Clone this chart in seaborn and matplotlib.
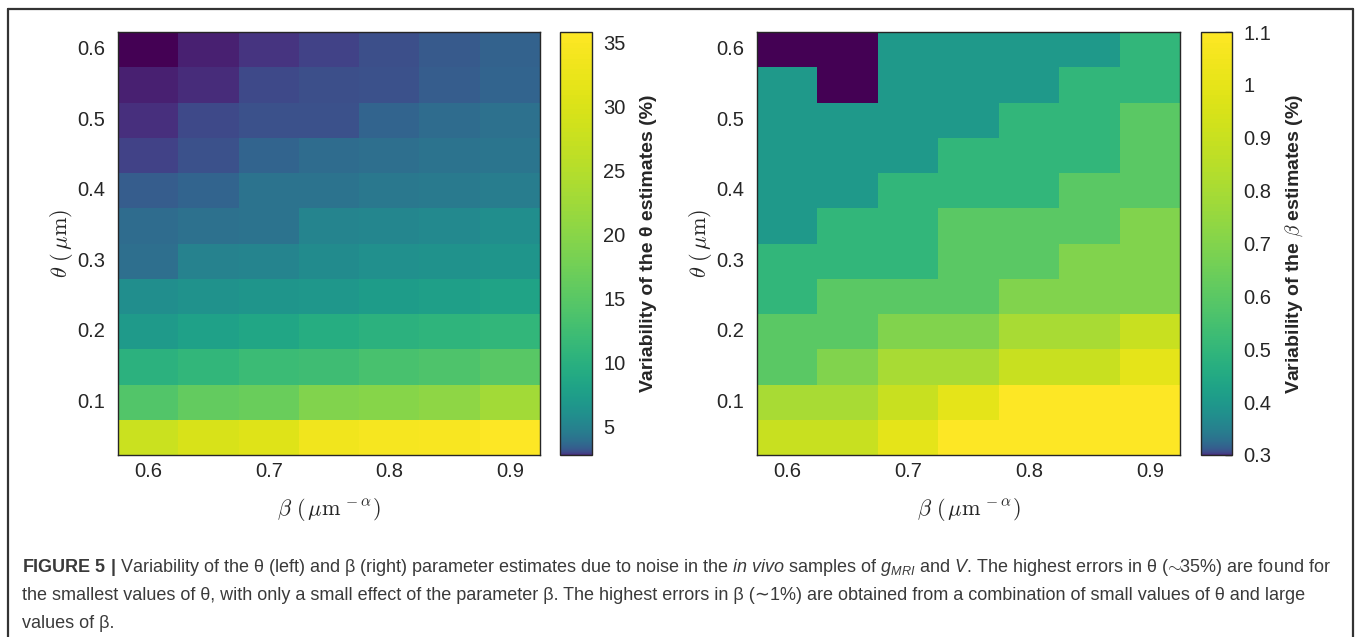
import numpy as np
import pandas as pd
import matplotlib
matplotlib.use("Agg")
import matplotlib.pyplot as plt
from matplotlib.colors import ListedColormap
from matplotlib.lines import Line2D
import seaborn as sns

# ---------------- data ----------------
beta_values = [0.6, 0.65, 0.7, 0.75, 0.8, 0.85, 0.9]
theta_values = [0.6, 0.55, 0.5, 0.45, 0.4, 0.35, 0.3, 0.25, 0.2, 0.15, 0.1, 0.05]  # top -> bottom

# variability of theta estimates (%), rows follow theta_values, columns beta_values
theta_var = [
    [2.80, 2.81, 2.86, 2.95, 3.08, 3.27, 3.47],
    [2.81, 2.83, 3.01, 3.08, 3.12, 3.33, 3.54],
    [2.84, 3.01, 3.12, 3.12, 3.54, 3.80, 4.00],
    [2.95, 3.12, 3.54, 3.80, 3.90, 4.11, 4.23],
    [3.33, 3.54, 4.11, 4.11, 4.36, 4.49, 4.63],
    [3.80, 4.00, 4.11, 5.10, 5.28, 5.46, 5.86],
    [3.90, 4.94, 5.10, 5.66, 6.07, 6.30, 6.53],
    [5.86, 6.30, 6.53, 6.78, 7.30, 7.58, 8.17],
    [7.03, 7.87, 8.49, 9.51, 10.25, 10.65, 11.06],
    [10.25, 11.06, 11.92, 12.38, 13.34, 13.84, 14.90],
    [14.36, 16.02, 16.61, 19.15, 19.83, 20.53, 22.76],
    [27.79, 29.65, 30.61, 33.65, 34.18, 34.71, 35.80],
]

# variability of beta estimates (%)
beta_var = [
    [0.3, 0.3, 0.4, 0.4, 0.4, 0.4, 0.5],
    [0.4, 0.3, 0.4, 0.4, 0.4, 0.5, 0.5],
    [0.4, 0.4, 0.4, 0.4, 0.5, 0.5, 0.6],
    [0.4, 0.4, 0.4, 0.5, 0.5, 0.5, 0.6],
    [0.4, 0.4, 0.5, 0.5, 0.5, 0.6, 0.6],
    [0.4, 0.5, 0.5, 0.6, 0.6, 0.6, 0.7],
    [0.5, 0.5, 0.5, 0.6, 0.6, 0.7, 0.7],
    [0.5, 0.6, 0.6, 0.6, 0.7, 0.7, 0.7],
    [0.6, 0.6, 0.7, 0.7, 0.8, 0.8, 0.9],
    [0.6, 0.7, 0.8, 0.8, 0.9, 0.9, 1.0],
    [0.8, 0.8, 0.9, 1.0, 1.1, 1.1, 1.1],
    [0.9, 0.9, 1.0, 1.1, 1.1, 1.1, 1.1],
]

x_ticks = [0.6, 0.7, 0.8, 0.9]
x_tick_labels = ["0.6", "0.7", "0.8", "0.9"]
y_ticks = [0.1, 0.2, 0.3, 0.4, 0.5, 0.6]
y_tick_labels = ["0.1", "0.2", "0.3", "0.4", "0.5", "0.6"]
theta_cbar_ticks = [5, 10, 15, 20, 25, 30, 35]
theta_cbar_labels = ["5", "10", "15", "20", "25", "30", "35"]
beta_cbar_ticks = [0.3, 0.4, 0.5, 0.6, 0.7, 0.8, 0.9, 1.0, 1.1]
beta_cbar_labels = ["0.3", "0.4", "0.5", "0.6", "0.7", "0.8", "0.9", "1", "1.1"]
theta_range = (2.8, 35.8)
beta_range = (0.3, 1.1)

caption_lines = [
    (r"$\mathbf{FIGURE\ 5\ |}$ Variability of the θ (left) and β (right) parameter estimates due to noise in the "
     r"$\mathit{in\ vivo}$ samples of $\mathit{g}_{\mathit{MRI}}$ and $\mathit{V}$. "
     r"The highest errors in θ ($\!\sim\!\!$35%) are found for"),
    ("the smallest values of θ, with only a small effect of the parameter β. The highest errors in β (∼1%) "
     "are obtained from a combination of small values of θ and large"),
    "values of β.",
]

# ---------------- style ----------------
sns.set_theme(style="white")
plt.rcParams['font.family'] = ['Liberation Sans', 'DejaVu Sans']
plt.rcParams['mathtext.fontset'] = 'custom'
plt.rcParams['mathtext.rm'] = 'Liberation Sans'
plt.rcParams['mathtext.it'] = 'Liberation Sans:italic'
plt.rcParams['mathtext.bf'] = 'Liberation Sans:bold'

W, H = 1358, 637
fig = plt.figure(figsize=(W / 100, H / 100), dpi=100)
fig.patch.set_facecolor("white")


def axes_px(x0, y0, x1, y1):
    return fig.add_axes([x0 / W, 1 - y1 / H, (x1 - x0) / W, (y1 - y0) / H])


# viridis with a compressed dark end (fine lookup table so the low end is resolved)
cmap = ListedColormap(plt.cm.viridis(np.linspace(0, 1, 65536) ** 0.3))
dark = "#262626"
tick_fs = 14.5


def pos_of(values, v):
    return float(np.argmin(np.abs(np.array(values) - v))) + 0.5


def draw_panel(ax, cax, data, vrange, cticks, clabels, clabel, clabel_x):
    df = pd.DataFrame(data, index=theta_values, columns=beta_values)
    sns.heatmap(df, ax=ax, cbar_ax=cax, cmap=cmap, vmin=vrange[0], vmax=vrange[1],
                linewidths=0, cbar_kws={"ticks": cticks})
    ax.set_xticks([pos_of(beta_values, v) for v in x_ticks])
    ax.set_xticklabels(x_tick_labels, rotation=0, fontsize=tick_fs, color=dark)
    ax.set_yticks([pos_of(theta_values, v) for v in y_ticks])
    ax.set_yticklabels(y_tick_labels, rotation=0, fontsize=tick_fs, color=dark)
    ax.tick_params(axis="x", direction="in", length=5, width=1, color=dark,
                   top=True, bottom=True, pad=5)
    ax.tick_params(axis="y", direction="in", length=5, width=1, color=dark,
                   left=True, right=True, pad=9)
    for sp in ax.spines.values():
        sp.set_visible(True)
        sp.set_color(dark)
        sp.set_linewidth(1.0)
    ax.set_xlabel(r"$\beta\ (\,\mu\mathrm{m}^{\,-\alpha})$", fontsize=16, color=dark,
                  math_fontfamily="cm")
    ax.xaxis.set_label_coords(0.5, -0.097)
    ax.set_ylabel(r"$\theta\ (\,\mu\mathrm{m})$", fontsize=16, color=dark, math_fontfamily="cm")
    ax.yaxis.set_label_coords(-0.102, 0.5)

    cbar = ax.collections[0].colorbar
    cbar.outline.set_edgecolor(dark)
    cbar.outline.set_linewidth(1.0)
    cbar.set_ticks(cticks)
    cbar.set_ticklabels(clabels)
    cax.tick_params(direction="in", length=5, width=1, color=dark, labelsize=tick_fs,
                    labelcolor=dark, pad=8)
    cbar.set_label(clabel, fontsize=14, fontweight="bold", color=dark,
                   math_fontfamily="cm")
    cax.yaxis.set_label_coords(clabel_x, 0.5)


ax1 = axes_px(118, 32, 540, 455)
cax1 = axes_px(560, 32, 592, 455)
ax2 = axes_px(757, 32, 1180, 455)
cax2 = axes_px(1201, 32, 1232, 455)

draw_panel(ax1, cax1, theta_var, theta_range, theta_cbar_ticks, theta_cbar_labels,
           "Variability of the θ estimates (%)", 2.5)
draw_panel(ax2, cax2, beta_var, beta_range, beta_cbar_ticks, beta_cbar_labels,
           r"Variability of the $\beta$ estimates (%)", 2.65)

# ---------------- caption ----------------
renderer = fig.canvas.get_renderer()
probe = fig.text(0, 0, caption_lines[0], fontsize=10)
w = probe.get_window_extent(renderer).width
probe.remove()
cap_fs = 10 * (1308 / w)
for i, line in enumerate(caption_lines):
    y_px = 567 + 28 * i
    fig.text(22 / W, 1 - y_px / H, line, fontsize=cap_fs, color="#3a3a3a",
             ha="left", va="center")

# frame around the figure
frame_kw = dict(transform=fig.transFigure, color="#333333", lw=1.6)
fig.add_artist(Line2D([8 / W, 8 / W], [1 - 9 / H, 0], **frame_kw))
fig.add_artist(Line2D([8 / W, 1353 / W], [1 - 9 / H, 1 - 9 / H], **frame_kw))
fig.add_artist(Line2D([1353 / W, 1353 / W], [1 - 9 / H, 0], **frame_kw))

fig.savefig("out.png", dpi=100, facecolor="white")
